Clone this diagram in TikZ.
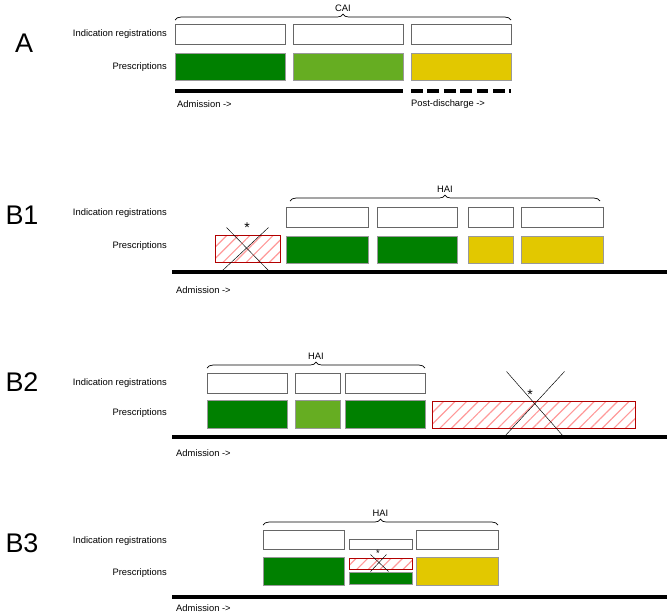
\documentclass[tikz,border=0pt]{standalone}
\usepackage{fontspec}
\setmainfont{Liberation Sans}
\usetikzlibrary{positioning, fit, patterns.meta, decorations.pathreplacing}
\definecolor{dgreen}{HTML}{008000}
\definecolor{lgreen}{HTML}{66AD22}
\definecolor{yel}{HTML}{E2C800}
\begin{document}
\begin{tikzpicture}[x=0.03cm, y=-0.03cm]
		\tikzstyle{Ind} = [rectangle, inner sep=0pt, draw=black!60, fill=white, line width=0.8pt]
		\tikzstyle{Rx} = [rectangle, inner sep=0pt, draw=black!40, line width=0.5pt]
		\tikzstyle{Hatch} = [rectangle, inner sep=0pt, draw=red!70!black, line width=0.5pt, pattern={Lines[angle=45, distance=7pt, line width=1pt]}, pattern color=red!40]
		\tikzstyle{Lab} = [font=\fontsize{8}{9}\selectfont, inner sep=0pt]
		\tikzstyle{Big} = [font=\fontsize{23}{24}\selectfont, inner sep=0pt]
		\tikzstyle{axis} = [line width=2.6pt]
		\tikzstyle{brc} = [decorate, decoration={brace, amplitude=5pt}, draw=black, line width=0.6pt]
		\useasboundingbox (0,0) rectangle (669,613);
		
		% A
		\node (A) [Big] at (24,43) {A};
		\node (ta1) [Lab, anchor=east] at (167,34) {Indication registrations};
		\node (ta2) [Lab, anchor=east] at (167,67) {Prescriptions};
		\node (ia1) [Ind, fit={(175,24) (285,44)}] {};
		\node (ia2) [Ind, fit={(293,24) (403,44)}] {};
		\node (ia3) [Ind, fit={(411,24) (511,44)}] {};
		\node (pa1) [Rx, fill=dgreen, fit={(175,53) (285,80)}] {};
		\node (pa2) [Rx, fill=lgreen, fit={(293,53) (403,80)}] {};
		\node (pa3) [Rx, fill=yel, fit={(411,53) (511,80)}] {};
		\draw [brc] (175,20) -- (511,20) node (cai) [Lab, midway, above=7pt] {CAI};
		\coordinate (a0) at (175,91);
		\coordinate (a1) at (403,91);
		\coordinate (a2) at (411,91);
		\coordinate (a3) at (511,91);
		\draw [axis] (a0) -- (a1);
		\draw [axis, dash pattern=on 10pt off 4pt] (a2) -- (a3);
		\node (adA) [Lab, anchor=west] at (177,104) {Admission ->};
		\node (pd) [Lab, anchor=west] at (411,104) {Post-discharge ->};
		
		% B1
		\node (B1) [Big] at (22,215) {B1};
		\node (tb1) [Lab, anchor=east] at (167,213) {Indication registrations};
		\node (tb2) [Lab, anchor=east] at (167,246) {Prescriptions};
		\node (h1) [Hatch, fit={(215,235) (280,262)}] {};
		\draw ([shift={(-21,-21)}]h1.center) -- ([shift={(21,22)}]h1.center);
		\draw ([shift={(-25,22)}]h1.center) -- ([shift={(21,-21)}]h1.center);
		\node (s1) [Lab, font=\fontsize{12}{12}\selectfont] at (247,228) {*};
		\node (ib1) [Ind, fit={(286,207) (368,227)}] {};
		\node (ib2) [Ind, fit={(377,207) (457,227)}] {};
		\node (ib3) [Ind, fit={(468,207) (513,227)}] {};
		\node (ib4) [Ind, fit={(521,207) (603,227)}] {};
		\node (pb1) [Rx, fill=dgreen, fit={(286,236) (368,263)}] {};
		\node (pb2) [Rx, fill=dgreen, fit={(377,236) (457,263)}] {};
		\node (pb3) [Rx, fill=yel, fit={(468,236) (513,263)}] {};
		\node (pb4) [Rx, fill=yel, fit={(521,236) (603,263)}] {};
		\draw [brc] (290,201) -- (600,201) node (hai1) [Lab, midway, above=7pt] {HAI};
		\coordinate (b0) at (172,272);
		\coordinate (b1) at (667,272);
		\draw [axis] (b0) -- (b1);
		\node (adB1) [Lab, anchor=west] at (176,290) {Admission ->};
		
		% B2
		\node (B2) [Big] at (22,382) {B2};
		\node (tc1) [Lab, anchor=east] at (167,383) {Indication registrations};
		\node (tc2) [Lab, anchor=east] at (167,413) {Prescriptions};
		\node (ic1) [Ind, fit={(207,373) (287,393)}] {};
		\node (ic2) [Ind, fit={(295,373) (340,393)}] {};
		\node (ic3) [Ind, fit={(345,373) (425,393)}] {};
		\node (pc1) [Rx, fill=dgreen, fit={(207,400) (287,428)}] {};
		\node (pc2) [Rx, fill=lgreen, fit={(295,400) (340,428)}] {};
		\node (pc3) [Rx, fill=dgreen, fit={(345,400) (425,428)}] {};
		\node (h2) [Hatch, fit={(432,401) (635,428)}] {};
		\draw ([shift={(-27,-43)}]h2.center) -- ([shift={(30,22)}]h2.center);
		\draw ([shift={(-29,22)}]h2.center) -- ([shift={(31,-43)}]h2.center);
		\node (s2) [Lab, font=\fontsize{12}{12}\selectfont] at (530,395) {*};
		\draw [brc] (207,368) -- (425,368) node (hai2) [Lab, midway, above=7pt] {HAI};
		\coordinate (c0) at (172,437);
		\coordinate (c1) at (667,437);
		\draw [axis] (c0) -- (c1);
		\node (adB2) [Lab, anchor=west] at (176,453) {Admission ->};
		
		% B3
		\node (B3) [Big] at (22,543) {B3};
		\node (td1) [Lab, anchor=east] at (167,541) {Indication registrations};
		\node (td2) [Lab, anchor=east] at (167,573) {Prescriptions};
		\node (id1) [Ind, fit={(263,530) (344,549)}] {};
		\node (id2) [Ind, fit={(349,539) (412,549)}] {};
		\node (id3) [Ind, fit={(416,530) (498,549)}] {};
		\node (pd1) [Rx, fill=dgreen, fit={(263,557) (344,585)}] {};
		\node (h3) [Hatch, fit={(349,558) (412,569)}] {};
		\node (pd2) [Rx, fill=dgreen, fit={(349,572) (412,584)}] {};
		\node (pd3) [Rx, fill=yel, fit={(416,557) (498,585)}] {};
		\draw ([shift={(-10,-9)}]h3.center) -- ([shift={(8,8)}]h3.center);
		\draw ([shift={(-10,8)}]h3.center) -- ([shift={(6,-9)}]h3.center);
		\node (s3) [Lab] at (378,553) {*};
		\draw [brc] (263,525) -- (498,525) node (hai3) [Lab, midway, above=7pt] {HAI};
		\coordinate (d0) at (172,597);
		\coordinate (d1) at (667,597);
		\draw [axis] (d0) -- (d1);
		\node (adB3) [Lab, anchor=west] at (176,608) {Admission ->};
\end{tikzpicture}
\end{document}
